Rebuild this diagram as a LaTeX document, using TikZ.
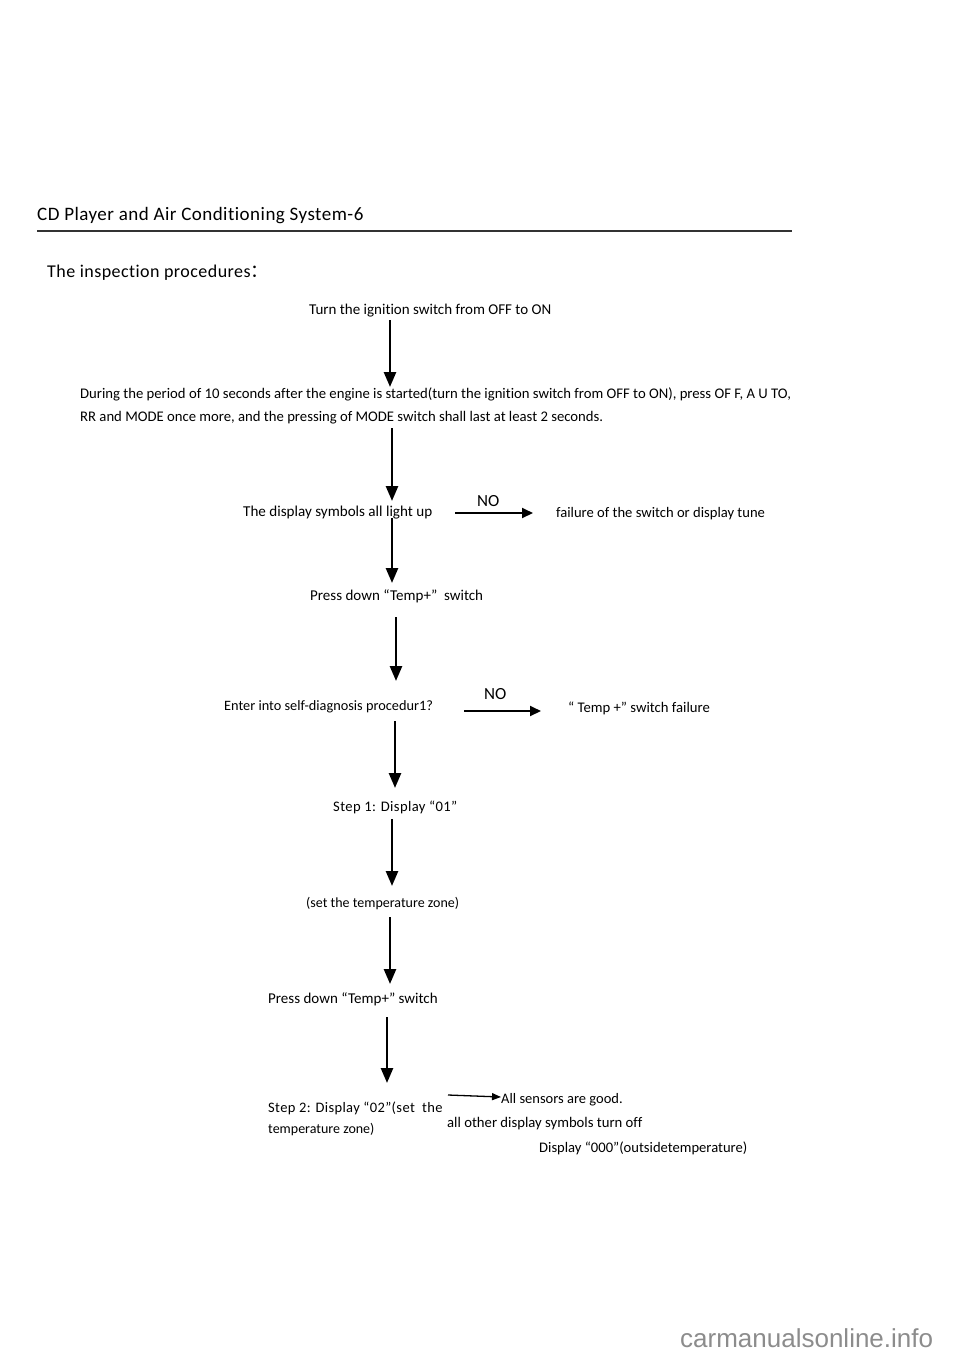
\documentclass[tikz,border=0pt]{standalone}
\usepackage{fontspec}
\setmainfont[Ligatures=NoCommon]{Carlito}
\newfontfamily\hdrfont[Ligatures=NoCommon,LetterSpace=2.5]{Carlito}
\newfontfamily\cjk{Noto Sans CJK SC}
\newfontfamily\wmfont{Liberation Sans}
\usetikzlibrary{arrows.meta}
\newcommand\fs[1]{\fontsize{#1}{#1}\selectfont}
\begin{document}
\begin{tikzpicture}[x=1pt,y=-1pt,
  txt/.style={anchor=base west,inner sep=0pt,font=\fs{14}},
  down/.style={line width=2.6pt,-{Triangle[width=12pt,length=15pt]}},
  side/.style={line width=2pt,-{Triangle[width=10pt,length=11pt]}},
  thin/.style={line width=1.3pt,-{Triangle[width=7pt,length=9pt]}}]
\useasboundingbox (0,0) rectangle (960,1358);
% header
\node[txt,font=\hdrfont\fs{19}] (hdr) at (37,220) {CD Player and Air Conditioning System-6};
\coordinate (r1) at (37,231); \coordinate (r2) at (792,231);
\draw[line width=2.5pt,black!80] (r1) -- (r2);
\node[txt,font=\hdrfont\fs{18}] (ttl) at (47,277) {The inspection procedures{\cjk ：}};
% flow texts
\node[txt,font=\fs{15}] (t1) at (309,314) {Turn the ignition switch from OFF to ON};
\node[txt,font=\fs{14.7}] (t2a) at (80,398) {During the period of 10 seconds after the engine is started(turn the ignition switch from OFF to ON), press OF F, A U TO,};
\node[txt,font=\fs{14.7}] (t2b) at (80,421) {RR and MODE once more, and the pressing of MODE switch shall last at least 2 seconds.};
\node[txt,font=\fs{15.1}] (t3) at (243,516) {The display symbols all light up};
\node[txt,font=\fs{17}] (no1) at (477,506) {NO};
\node[txt,font=\fs{14.6}] (f1) at (556,517) {failure of the switch or display tune};
\node[txt,font=\fs{15}] (t4) at (310,600) {Press down “Temp+”\ \ switch};
\node[txt,font=\fs{14.3}] (t5) at (224,710) {Enter into self-diagnosis procedur1?};
\node[txt,font=\fs{17}] (no2) at (484,699) {NO};
\node[txt,font=\fs{14.7}] (f2) at (568,712) {“ Temp +” switch failure};
\node[txt,font=\hdrfont\fs{14.6}] (t6) at (333,811) {Step 1: Display “01”};
\node[txt] (t7) at (306,907) {(set the temperature zone)};
\node[txt,font=\fs{15}] (t8) at (268,1003) {Press down “Temp+” switch};
\node[txt,font=\hdrfont\fs{14.5}] (t9a) at (268,1112) {Step 2: Display “02”(set\ \ the};
\node[txt] (t9b) at (268,1133) {temperature zone)};
\node[txt,font=\fs{14.5}] (g1) at (501,1103) {All sensors are good.};
\node[txt,font=\fs{14.7}] (g2) at (447,1127) {all other display symbols turn off};
\node[txt,font=\fs{14.6}] (g3) at (539,1152) {Display “000”(outsidetemperature)};
% arrows
\coordinate (a1s) at (390,320); \coordinate (a1e) at (390,387);
\coordinate (a2s) at (392,428); \coordinate (a2e) at (392,501);
\coordinate (a3s) at (392,518); \coordinate (a3e) at (392,583);
\coordinate (a4s) at (396,617); \coordinate (a4e) at (396,681);
\coordinate (a5s) at (395,721); \coordinate (a5e) at (395,788);
\coordinate (a6s) at (392,819); \coordinate (a6e) at (392,886);
\coordinate (a7s) at (390,917); \coordinate (a7e) at (390,984);
\coordinate (a8s) at (387,1017); \coordinate (a8e) at (387,1083);
\foreach \i in {1,...,8} {\draw[down] (a\i s) -- (a\i e);}
\coordinate (n1s) at (455,513); \coordinate (n1e) at (533,513);
\coordinate (n2s) at (464,711); \coordinate (n2e) at (541,711);
\draw[side] (n1s) -- (n1e);
\draw[side] (n2s) -- (n2e);
\coordinate (gs) at (448,1095);
\draw[thin] (gs) -- (g1.base west |- 0,1097);
% watermark
\node[anchor=base west,inner sep=0pt,font=\wmfont\fs{26},text=black!45] (wm) at (680,1347) {carmanualsonline.info};
\end{tikzpicture}
\end{document}
